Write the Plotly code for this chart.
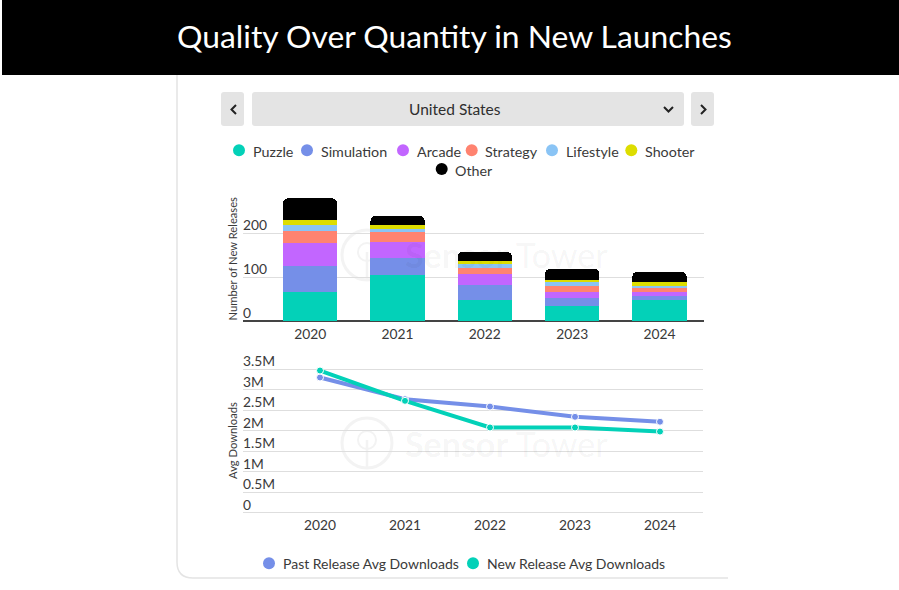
import plotly.graph_objects as go

W, H = 899, 590

years = ["2020", "2021", "2022", "2023", "2024"]

# stacked releases per genre
puzzle = [66, 105, 48, 34, 48]
simulation = [60, 39, 34, 19, 10]
arcade = [53, 37, 26, 14, 8]
strategy = [26, 23, 14, 12, 9]
lifestyle = [14, 7, 9, 10, 6]
shooter = [12, 7, 6, 5, 8]
other = [49, 22, 21, 25, 24]

genres = ["Puzzle", "Simulation", "Arcade", "Strategy", "Lifestyle", "Shooter", "Other"]
genre_values = [puzzle, simulation, arcade, strategy, lifestyle, shooter, other]
genre_colors = ["#03D1B8", "#758FE8", "#C266FF", "#FF8370", "#8AC4F5", "#DDDD00", "#000000"]

past_avg = [3300000, 2770000, 2590000, 2340000, 2220000]
new_avg = [3470000, 2730000, 2080000, 2080000, 1980000]

bar_ticks = [0, 100, 200]
line_ticks = [0, 500000, 1000000, 1500000, 2000000, 2500000, 3000000, 3500000]
line_tick_text = ["0", "0.5M", "1M", "1.5M", "2M", "2.5M", "3M", "3.5M"]

FONT = "Lato"
TEXT = "#3a3a3a"
GRID = "#dedede"
MARK = "#f3f3f3"


def px(x):
    return x / W


def py(y):
    return 1 - y / H


def label(x, y, text, size=14, anchor="left", color=TEXT, angle=0, family=FONT):
    return dict(x=px(x), y=py(y), xref="paper", yref="paper", text=text, showarrow=False,
                xanchor=anchor, yanchor="middle", textangle=angle,
                font=dict(family=family, size=size, color=color))


def dot(x, y, r, color):
    return dict(type="circle", xref="paper", yref="paper", x0=px(x - r), x1=px(x + r),
                y0=py(y + r), y1=py(y - r), fillcolor=color, line_width=0)


def ring(x, y, r, width):
    return dict(type="circle", xref="paper", yref="paper", x0=px(x - r), x1=px(x + r),
                y0=py(y + r), y1=py(y - r), line=dict(color=MARK, width=width), layer="below")


def box(x0, y0, x1, y1, color):
    r = 3
    path = (f"M {px(x0 + r)} {py(y0)} L {px(x1 - r)} {py(y0)} Q {px(x1)} {py(y0)} {px(x1)} {py(y0 + r)} "
            f"L {px(x1)} {py(y1 - r)} Q {px(x1)} {py(y1)} {px(x1 - r)} {py(y1)} "
            f"L {px(x0 + r)} {py(y1)} Q {px(x0)} {py(y1)} {px(x0)} {py(y1 - r)} "
            f"L {px(x0)} {py(y0 + r)} Q {px(x0)} {py(y0)} {px(x0 + r)} {py(y0)} Z")
    return dict(type="path", xref="paper", yref="paper", path=path, fillcolor=color, line_width=0, layer="below")


def chevron(points):
    path = "M " + " L ".join(f"{px(a)} {py(b)}" for a, b in points)
    return dict(type="path", xref="paper", yref="paper", path=path, line=dict(color="#222222", width=2))


fig = go.Figure()

for name, vals, col in zip(genres, genre_values, genre_colors):
    fig.add_trace(go.Bar(x=years, y=vals, name=name, marker_color=col, marker_line_width=0,
                         width=0.62, showlegend=False, xaxis="x", yaxis="y"))

fig.add_trace(go.Scatter(x=years, y=past_avg, name="Past Release Avg Downloads", mode="lines+markers",
                         line=dict(color=genre_colors[1], width=4),
                         marker=dict(size=7, color=genre_colors[1], line=dict(color="white", width=1)),
                         showlegend=False, xaxis="x2", yaxis="y2"))
fig.add_trace(go.Scatter(x=years, y=new_avg, name="New Release Avg Downloads", mode="lines+markers",
                         line=dict(color=genre_colors[0], width=4),
                         marker=dict(size=7, color=genre_colors[0], line=dict(color="white", width=1)),
                         showlegend=False, xaxis="x2", yaxis="y2"))

shapes = [
    dict(type="rect", xref="paper", yref="paper", x0=px(2), x1=1, y0=py(75), y1=1,
         fillcolor="black", line_width=0),
    # card outline
    dict(type="path", xref="paper", yref="paper",
         path=f"M {px(177)} {py(75)} L {px(177)} {py(562)} Q {px(177)} {py(578)} {px(193)} {py(578)} L {px(728)} {py(578)}",
         line=dict(color="#e4e4e4", width=1.5), layer="below"),
    box(221, 92, 244, 126, "#e4e4e4"),
    box(252, 92, 684, 126, "#e4e4e4"),
    box(691, 92, 714, 126, "#e4e4e4"),
    chevron([(236, 105), (231.5, 109.5), (236, 114)]),
    chevron([(701, 105), (705.5, 109.5), (701, 114)]),
    chevron([(664, 107), (668.5, 111.5), (673, 107)]),
]

annotations = [
    label(454, 36, "Quality Over Quantity in New Launches", size=31.8, anchor="center", color="white"),
    label(455.5, 108.5, "United States", size=15.5, anchor="center", color="#2e2e2e"),
    label(232, 258.5, "Number of New Releases", size=11.2, anchor="center", angle=-90),
    label(232, 441, "Avg Downloads", size=11.2, anchor="center", angle=-90),
]

# watermarks behind both panels
for wy in [255, 443]:
    shapes.append(ring(367, wy, 25, 3))
    shapes.append(ring(367, wy - 3, 9, 2))
    shapes.append(dict(type="line", xref="paper", yref="paper", x0=px(367), x1=px(367),
                       y0=py(wy - 3), y1=py(wy + 24), line=dict(color=MARK, width=2.5), layer="below"))
    annotations.append(label(403, wy, "<b>Sensor</b> Tower", size=34, color="rgba(0,0,0,0.05)"))

# hand placed legends, the original centres them over two rows
legend_x = [239, 307, 403, 471.7, 552, 631.3, 441.7]
legend_y = [150.3, 150.3, 150.3, 150.3, 150.3, 150.3, 169]
for name, col, lx, ly in zip(genres, genre_colors, legend_x, legend_y):
    shapes.append(dot(lx, ly, 6, col))
    annotations.append(label(lx + 11.5, ly + 1, name, size=14.3))

for name, col, lx in zip(["Past Release Avg Downloads", "New Release Avg Downloads"],
                         [genre_colors[1], genre_colors[0]], [269, 473]):
    shapes.append(dot(lx, 563.3, 6, col))
    annotations.append(label(lx + 12, 563.8, name))

tick_font = dict(family=FONT, size=13.8, color=TEXT)

fig.update_layout(
    width=W, height=H, autosize=False,
    margin=dict(l=0, r=0, t=0, b=0),
    paper_bgcolor="white", plot_bgcolor="rgba(0,0,0,0)",
    barmode="stack", barcornerradius=5,
    font=dict(family=FONT, size=14, color=TEXT),
    shapes=shapes, annotations=annotations,
    # axes run a little past the first and last tick so the raised tick labels stay visible
    xaxis=dict(domain=[px(243), px(704)], range=[-0.77, 4.51], type="category", anchor="y",
               showline=False, ticks="", showgrid=False, ticklabelstandoff=-7, tickfont=tick_font),
    yaxis=dict(domain=[py(331), py(190)], range=[-22.8, 299], tickvals=bar_ticks, anchor="x",
               showgrid=True, gridcolor=GRID, gridwidth=1,
               zeroline=True, zerolinecolor="#444444", zerolinewidth=2, tickfont=tick_font,
               ticklabelposition="inside", ticklabelshift=-8, ticklabelstandoff=-3),
    xaxis2=dict(domain=[px(243), px(703)], range=[-0.906, 4.506], type="category", anchor="y2",
                showline=False, ticks="", showgrid=False, ticklabelstandoff=-8, tickfont=tick_font),
    yaxis2=dict(domain=[py(522.7), py(349.3)], range=[-244000, 3988000], tickvals=line_ticks,
                ticktext=line_tick_text, anchor="x2",
                showgrid=True, gridcolor=GRID, gridwidth=1, zeroline=False, tickfont=tick_font,
                ticklabelposition="inside", ticklabelshift=-8, ticklabelstandoff=-3),
)

# the page's default body margin would push the figure 8px in
fig.write_html("out.html", config=dict(displayModeBar=False),
               post_script="document.body.style.margin = '0';")
